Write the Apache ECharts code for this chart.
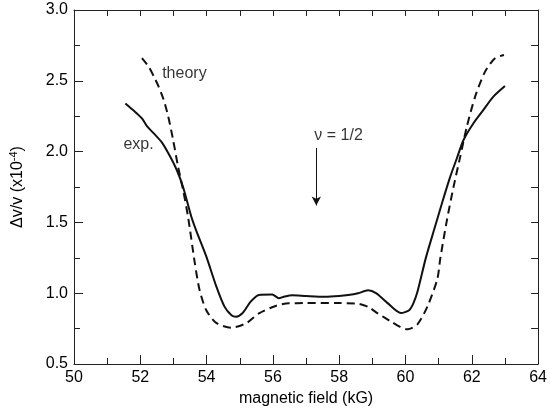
<!DOCTYPE html>
<html>
<head>
<meta charset="utf-8">
<script src="https://cdn.jsdelivr.net/npm/echarts@6/dist/echarts.min.js"></script>
<style>html,body{margin:0;padding:0;background:#fff}#c{width:550px;height:417px}</style>
</head>
<body>
<div id="c"></div>
<script>
// Data (magnetic field kG, Δv/v ×10^-4)
var theoryX = [52.05,52.25,52.40,52.55,52.70,52.84,52.99,53.14,53.29,53.44,53.64,53.79,53.99,54.29,54.74,55.19,55.58,56.08,56.48,57.0,58.0,58.6,58.9,59.16,59.56,59.85,60.06,60.36,60.66,60.96,61.05,61.25,61.45,61.65,61.85,62.10,62.40,62.70,62.97];
var theoryY = [2.66,2.60,2.535,2.46,2.37,2.25,2.082,1.893,1.729,1.54,1.22,1.02,0.88,0.79,0.756,0.787,0.858,0.91,0.929,0.93,0.93,0.925,0.90,0.858,0.80,0.76,0.745,0.78,0.905,1.10,1.246,1.517,1.752,1.964,2.176,2.388,2.565,2.659,2.682];
var expX = [51.55,51.80,52.05,52.20,52.40,52.65,52.90,53.10,53.29,53.54,53.69,53.99,54.29,54.54,54.75,54.89,55.08,55.33,55.58,55.98,56.18,56.33,56.58,57.0,57.57,58.0,58.27,58.57,58.87,59.11,59.46,59.86,60.11,60.24,60.36,60.61,60.86,61.10,61.35,61.55,61.75,62.05,62.35,62.65,63.0];
var expY = [2.34,2.29,2.235,2.18,2.13,2.065,1.965,1.87,1.75,1.54,1.44,1.26,1.05,0.905,0.845,0.834,0.858,0.94,0.987,0.99,0.965,0.975,0.985,0.98,0.975,0.98,0.987,1.0,1.02,1.0,0.93,0.86,0.88,0.93,1.01,1.246,1.446,1.635,1.823,1.953,2.082,2.20,2.294,2.388,2.463];
var xTicks = {min: 50, max: 64, interval: 2};
var yTicks = {min: 0.5, max: 3.0, interval: 0.5};
var annotations = [
  {text: 'theory', x: 52.66, y: 2.548},
  {text: 'exp.', x: 51.49, y: 2.047},
  {text: 'ν = 1/2', x: 57.25, y: 2.11}
];
var arrow = {x: 57.31, yFrom: 2.025, yTo: 1.62};

function zip(a, b) { return a.map(function (v, i) { return [v, b[i]]; }); }

var FONT = 'Liberation Sans, Arial, sans-serif';
var AX = '#222';
var chart = echarts.init(document.getElementById('c'), null, {renderer: 'canvas'});
chart.setOption({
  animation: false,
  backgroundColor: '#fff',
  grid: {left: 73, top: 10, right: 8, bottom: 53},
  xAxis: [{
    type: 'value', position: 'bottom', min: xTicks.min, max: xTicks.max, interval: xTicks.interval,
    name: 'magnetic field (kG)', nameLocation: 'middle', nameGap: 26,
    nameTextStyle: {fontSize: 16, color: '#000', fontFamily: FONT},
    axisLine: {lineStyle: {color: AX, width: 1}},
    axisTick: {inside: true, length: 9, lineStyle: {color: AX}},
    minorTick: {show: true, splitNumber: 2, length: 6, lineStyle: {color: AX}},
    axisLabel: {fontSize: 16, color: '#000', fontFamily: FONT, margin: 6},
    splitLine: {show: false}
  }, {
    type: 'value', position: 'top', min: xTicks.min, max: xTicks.max, interval: 1,
    axisLine: {lineStyle: {color: AX, width: 1}},
    axisTick: {inside: true, length: 6, lineStyle: {color: AX}},
    axisLabel: {show: false}, splitLine: {show: false}
  }],
  yAxis: [{
    type: 'value', position: 'left', min: yTicks.min, max: yTicks.max, interval: yTicks.interval,
    name: '{a|Δv/v (x10}{s|-4}{a|)}', nameLocation: 'middle', nameGap: 47,
    nameTextStyle: {fontSize: 16, color: '#000', fontFamily: FONT,
      rich: {a: {fontSize: 16, fontFamily: FONT, color: '#000'}, s: {fontSize: 11, fontFamily: FONT, color: '#000', verticalAlign: 'top', padding: [0, 0, 8, 0]}}},
    axisLine: {lineStyle: {color: AX, width: 1}},
    axisTick: {inside: true, length: 9, lineStyle: {color: AX}},
    minorTick: {show: true, splitNumber: 2, length: 6, lineStyle: {color: AX}},
    axisLabel: {fontSize: 16, color: '#000', fontFamily: FONT, margin: 6, formatter: function (v) { return v.toFixed(1); }},
    splitLine: {show: false}
  }, {
    type: 'value', position: 'right', min: yTicks.min, max: yTicks.max, interval: 0.25,
    axisLine: {lineStyle: {color: AX, width: 1}},
    axisTick: {inside: true, length: 7, lineStyle: {color: AX}},
    axisLabel: {show: false}, splitLine: {show: false}
  }],
  series: [{
    name: 'theory', type: 'line', data: zip(theoryX, theoryY), showSymbol: false, smooth: 0.25,
    lineStyle: {color: '#111', width: 2, type: [8, 5]}
  }, {
    name: 'exp.', type: 'line', data: zip(expX, expY), showSymbol: false, smooth: 0.25,
    lineStyle: {color: '#111', width: 2}
  }, {
    name: 'labels', type: 'scatter', symbolSize: 0, silent: true,
    data: annotations.map(function (a) { return {value: [a.x, a.y], label: {formatter: a.text}}; }),
    label: {show: true, position: 'right', distance: 0, fontSize: 16, color: '#000', fontFamily: FONT},
    markLine: {
      silent: true, symbol: ['none', 'arrow'], symbolSize: [7, 9],
      lineStyle: {color: '#111', width: 1, type: 'solid'}, label: {show: false},
      data: [[{coord: [arrow.x, arrow.yFrom]}, {coord: [arrow.x, arrow.yTo]}]]
    }
  }]
});
</script>
</body>
</html>
